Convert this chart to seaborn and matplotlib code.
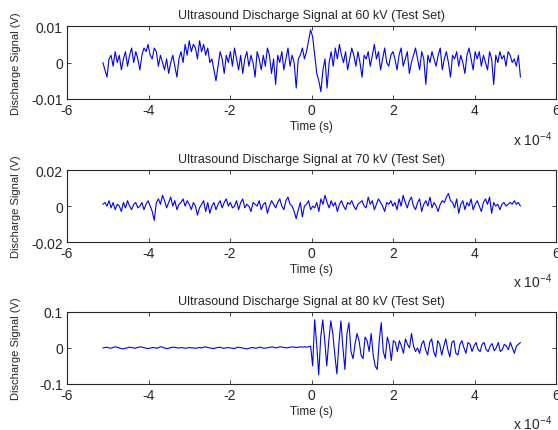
"""
plot.py
- Ultrasound discharge signals (test set) at 60, 70 and 80 kV, MATLAB-style stacked panels.
"""
import numpy as np
import pandas as pd
import seaborn as sns
import matplotlib
matplotlib.use("Agg")
import matplotlib.pyplot as plt

# signal values, in mV (scaled to V below)
sig_60kv = [
    0, -2, -4, 1, 2, -1, 3, 0, 2, -2, 1, 3, -1, 2, 4, 0, 3, 1, -2, 2, 4, 3,
    5, 2, 1, 4, 3, -1, 2, 0, -2, 1, -3, 0, 2, -1, -4, 1, 3, 0, 5, 2, 6, 3, 5, 4,
    1, 6, 3, 5, 2, 4, 0, 1, -2, -5, -1, 3, 1, -3, 2, 0,
    3, -1, 4, 1, -2, 2, -3, 1, 3, -1, 2, 0, -4, 3, 1, -2, 2, -1, 4, 2, -3, 1,
    -6, 2, 0, 3, -2, 1, 4, -1, 2, 0, -7, 1, 2, 4, 1, 3, 6, 9,
    7, 2, -3, -5, -8, -2, 1, -7, 0, 3, -1, 4, 1, 5, 2, 0, 3, -2, 1, 4, 2, -1,
    3, 0, -4, 2, 1, 3, -1, 2, 5, 1, 3, -2, 1, 4, 0, -1, 2, 3,
    1, -2, 2, 4, -1, 1, 3, -3, 0, 2, 4, 1, -2, 3, 1, -6, 2, 0, 3, 1, -1, 2,
    4, -2, 1, 3, 0, -4, 2, 1, 3, -1, 2, 0, -3, 2, 4, 1, -2, 3,
    1, 3, -1, 2, 0, -2, 3, 1, -6, 2, 0, 3, 1, 2, -1, 3, 2, 0, 1, -1, 2, -4,
]
sig_70kv = [
    1, 2, 0, 3, -1, 2, -2, 1, 0, -3, 2, -1, 3, 0, -2, 1, 2, -1, 0, 2, -2, 1,
    3, 0, -3, -8, 2, 4, 1, 6, 3, -1, 2, 5, 0, 3, -2, 1, 2, 4, 0, 3, 1, -2, 2,
    0, -5, -1, 1, 3, -3, 2, -4, 0, 2, -2, 1, 3, -1, 2, 4, 0,
    2, -1, 0, 3, -2, 2, 4, -1, 1, 0, -3, 2, 1, 0, 3, -2, 1, 2, -4, 0, 3, 1,
    -1, 2, 4, 0, -2, 3, 5, 1, 0, -3, -7, -2, 2, -6, 0, 1, 3, -2,
    0, -1, 2, -3, 4, 1, 6, 2, -1, 3, 0, 2, -3, 1, 3, 0, -2, 2, 1, 3, 0, -2,
    1, 2, 3, 0, -1, 5, 1, 3, -2, 1, 4, 2, 0, -3, 2, 1, 3, 0,
    2, -2, 4, 0, 6, 2, -1, 3, 5, 0, -2, 2, 4, -3, 1, 3, 0, 5, -1, 2, 0, -3,
    1, 3, 2, 5, 7, 3, 2, -1, 4, -4, 1, 3, -2, 2, 0, 4, -2, 1,
    3, 0, -3, 2, 4, 1, 5, -4, 2, 0, 1, -2, 1, 2, 0, 1, 2, 1, 3, 1, 2, 0,
]
sig_80kv = [
    0, 1, 2, 0, -1, 1, 3, 2, 0, -2, -3, -1, 0, 2, 1, 0, -1, 1, 2, 3, 1, 0,
    -2, -1, 0, 1, 0, -1, 2, 3, 1, -1, -2, 0, 1, 2, 1, 0, 0, 1, 0, -1, 0, 1,
    0, 0, -1, 0, 1, 0, 2, 3, 1, 0, -1, -2, 0, 1, 2, 0, -1, 0, 1, 0, -1, -2,
    0, 2, 1, 0, -1, -3, -2, 0, 1, 0, -1, 1, 2, 0, -1, 0, 1, 2, 3, 1, 0, 2,
    3, 2, 1, 0, 1, 2, 3, 2, 1, 2, 3, 2, 3, 2, 3, 5,
    -50, 78, 10, -75, 30, 78, 20, -50, 20, 75, 40, -20, -72, 10, 75, 0, -60,
    40, 70, -10, -30, 10, 40, 20, -20, -30, 30, 20, -10, 40, -20, -50, -60,
    20, 70, -10, -30, 30, 10, -35, 20, 15, -10, 20, 5, -15, 25, 10, 0, 40,
    5, -10, 0, -15,
    10, 20, -5, -20, 15, 25, -10, -25, 20, 10, -20, 5, 25, -5, -25, 15, 20,
    -15, -20, 10, 20, 0, -15, 15, 10, -10, 5, 15, -5, -10, 10, 15, -5, -10,
    5, 12, -8, 0, 15, -10, -5, 10, 5, -5, 15, 0, -15, 5, 10, 15,
]

titles = [
    "Ultrasound Discharge Signal at 60 kV (Test Set)",
    "Ultrasound Discharge Signal at 70 kV (Test Set)",
    "Ultrasound Discharge Signal at 80 kV (Test Set)",
]
x_ticks = [-6e-4, -4e-4, -2e-4, 0, 2e-4, 4e-4, 6e-4]
x_tick_labels = ["-6", "-4", "-2", "0", "2", "4", "6"]
y_limits = [0.01, 0.02, 0.1]
y_tick_labels = [["-0.01", "0", "0.01"], ["-0.02", "0", "0.02"], ["-0.1", "0", "0.1"]]

sns.set_style("ticks")
plt.rcParams["font.family"] = ["Liberation Sans", "DejaVu Sans"]
plt.rcParams["axes.unicode_minus"] = False

fig = plt.figure(figsize=(5.58, 4.31), dpi=100)
# panel placement (fig fraction): left, bottom, width, height
boxes = [
    [0.120, 0.768, 0.877, 0.169],
    [0.120, 0.436, 0.877, 0.167],
    [0.120, 0.107, 0.877, 0.167],
]

for sig, title, lim, ylabels, box in zip(
    [sig_60kv, sig_70kv, sig_80kv], titles, y_limits, y_tick_labels, boxes
):
    vals = np.array(sig) * 1e-3
    t = np.linspace(-5.12e-4, 5.12e-4, len(vals))
    df = pd.DataFrame({"t": t, "v": vals})
    ax = fig.add_axes(box)
    sns.lineplot(data=df, x="t", y="v", ax=ax, color="#0000FF", linewidth=0.8)
    ax.set_xlim(-6e-4, 6e-4)
    ax.set_ylim(-lim, lim)
    ax.set_xticks(x_ticks)
    ax.set_xticklabels(x_tick_labels)
    ax.set_yticks([-lim, 0, lim])
    ax.set_yticklabels(ylabels)
    ax.tick_params(direction="in", top=True, right=True, length=3, width=0.6,
                   labelsize=10, pad=3)
    for s in ax.spines.values():
        s.set_visible(True)
        s.set_linewidth(0.8)
    ax.set_title(title, fontsize=9, pad=6)
    ax.set_xlabel("Time (s)", fontsize=8.5, labelpad=2)
    ax.set_ylabel("Discharge Signal (V)", fontsize=8)
    ax.yaxis.set_label_coords(-0.094, 0.5)
    ax.text(0.992, -0.54, r"x 10$^{\mathregular{-4}}$", transform=ax.transAxes,
            ha="right", va="center", fontsize=10)

fig.savefig("out.png", dpi=100)
